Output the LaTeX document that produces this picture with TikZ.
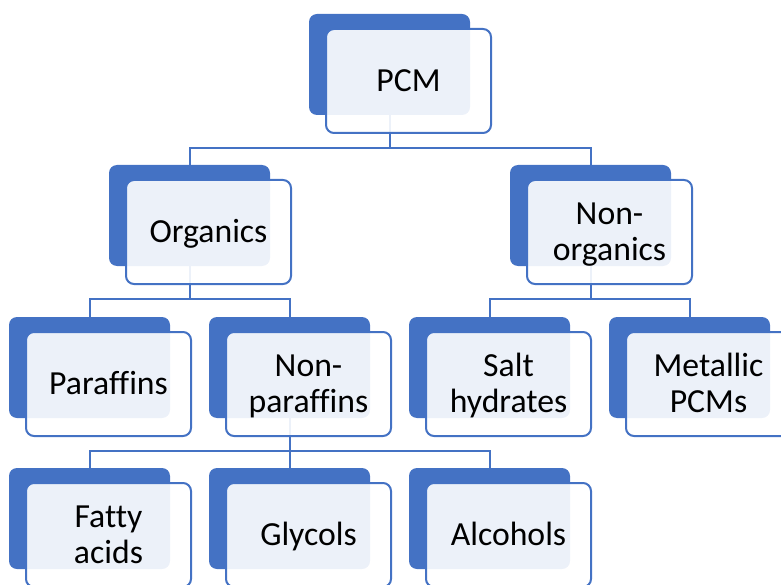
\documentclass[tikz,border=0pt]{standalone}
\usepackage{fontspec}
\setmainfont{Carlito}[Ligatures=CommonOff]
\definecolor{pcmblue}{HTML}{4472C4}
\tikzset{
  backbox/.style={draw=none, fill=pcmblue, rounded corners=8pt, minimum width=161pt, minimum height=101pt, anchor=north west, inner sep=0pt, outer sep=0pt},
  frontbox/.style={draw=pcmblue, line width=2pt, fill=white, fill opacity=0.9, text opacity=1, rounded corners=8pt, minimum width=165pt, minimum height=104pt, anchor=north west, align=center, inner sep=0pt, outer sep=0pt, font=\fontsize{33.7}{36}\selectfont, text height=21.7pt, text depth=0pt},
  twoline/.style={text height=57.7pt, text depth=0pt},
  conn/.style={draw=pcmblue, line width=2pt}
}
\begin{document}
\begin{tikzpicture}[x=1pt,y=-1pt]
\useasboundingbox (0,0) rectangle (781,585);
\clip (0,0) rectangle (781,585);
% back boxes
\node[backbox] (pcmb) at (309,14) {};
\node[backbox] (orgb) at (109,165) {};
\node[backbox] (nonb) at (510,165) {};
\node[backbox] (parb) at (9,317) {};
\node[backbox] (npab) at (209,317) {};
\node[backbox] (salb) at (409,317) {};
\node[backbox] (metb) at (609,317) {};
\node[backbox] (fatb) at (9,468) {};
\node[backbox] (glyb) at (209,468) {};
\node[backbox] (alcb) at (409,468) {};
% junctions
\coordinate (j1) at (389.5,148);
\coordinate (j2) at (189.5,299);
\coordinate (j3) at (590.5,299);
\coordinate (j4) at (289.5,451);
% connectors
\draw[conn] (pcmb.south) -- (j1);
\draw[conn] (orgb.north) |- (j1) -| (nonb.north);
\draw[conn] (orgb.south) -- (j2);
\draw[conn] (parb.north) |- (j2) -| (npab.north);
\draw[conn] (nonb.south) -- (j3);
\draw[conn] (salb.north) |- (j3) -| (metb.north);
\draw[conn] (npab.south) -- (j4);
\draw[conn] (fatb.north) |- (j4) -| (alcb.north);
\draw[conn] (glyb.north) -- (j4);
% front boxes
\node[frontbox] (pcm) at (326,29) {PCM};
\node[frontbox] (org) at (126,180) {Organics};
\node[frontbox, twoline] (non) at (527,180) {Non-\\organics};
\node[frontbox] (par) at (26,332) {Paraffins};
\node[frontbox, twoline] (npa) at (226,332) {Non-\\paraffins};
\node[frontbox, twoline] (sal) at (426,332) {Salt\\hydrates};
\node[frontbox, twoline] (met) at (626,332) {Metallic\\PCMs};
\node[frontbox, twoline] (fat) at (26,483) {Fatty\\acids};
\node[frontbox] (gly) at (226,483) {Glycols};
\node[frontbox] (alc) at (426,483) {Alcohols};
\end{tikzpicture}
\end{document}
